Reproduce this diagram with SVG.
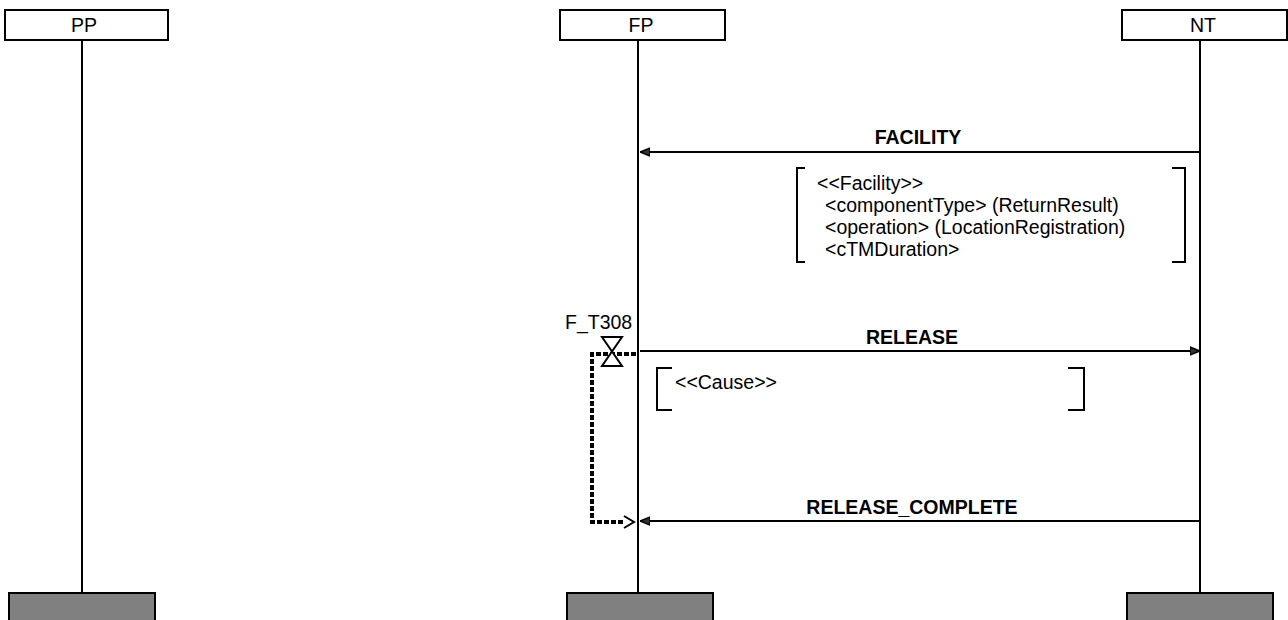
<svg xmlns="http://www.w3.org/2000/svg" width="1288" height="620" viewBox="0 0 1288 620">
<style>
.hdr{fill:#fff;stroke:#000;stroke-width:2}
.foot{fill:#808080;stroke:#000;stroke-width:2}
.life{stroke:#000;stroke-width:2;fill:none}
.msg{stroke:#000;stroke-width:2;fill:none}
.br{stroke:#000;stroke-width:2;fill:none}
.t{font-family:"Liberation Sans",Arial,sans-serif;font-size:19.5px;fill:#000}
.lb{font-family:"Liberation Sans",Arial,sans-serif;font-size:19.5px;font-weight:bold;fill:#000}
.tm{stroke:#000;stroke-width:4;stroke-dasharray:5 2;fill:none}
</style>
<defs>
<marker id="ah" viewBox="0 0 10 10" refX="10" refY="5" markerWidth="10" markerHeight="10" markerUnits="userSpaceOnUse" orient="auto">
<path d="M0,1 L10,5 L0,9 Z" fill="#333" stroke="#000" stroke-width="1.5"/>
</marker>
</defs>
<g id="PP">
<rect class="hdr" x="5" y="10" width="163" height="30"/>
<text class="t" x="84" y="32" text-anchor="middle">PP</text>
<line class="life" x1="82" y1="40" x2="82" y2="593"/>
<rect class="foot" x="9" y="593" width="146" height="32"/>
</g>
<g id="FP">
<rect class="hdr" x="560" y="10" width="165" height="30"/>
<text class="t" x="641" y="32" text-anchor="middle">FP</text>
<line class="life" x1="638" y1="40" x2="638" y2="593"/>
<rect class="foot" x="567" y="593" width="146" height="32"/>
</g>
<g id="NT">
<rect class="hdr" x="1122" y="10" width="165" height="30"/>
<text class="t" x="1203" y="32" text-anchor="middle">NT</text>
<line class="life" x1="1200" y1="40" x2="1200" y2="593"/>
<rect class="foot" x="1127" y="593" width="146" height="32"/>
</g>
<g id="connectors">
<line class="msg" x1="1200" y1="152" x2="640" y2="152" marker-end="url(#ah)"/>
<text class="lb" x="918" y="144" text-anchor="middle">FACILITY</text>
<line class="msg" x1="640" y1="351" x2="1200" y2="351" marker-end="url(#ah)"/>
<text class="lb" x="912" y="344" text-anchor="middle">RELEASE</text>
<line class="msg" x1="1200" y1="521" x2="640" y2="521" marker-end="url(#ah)"/>
<text class="lb" x="912" y="514" text-anchor="middle">RELEASE_COMPLETE</text>
<path class="tm" d="M636,354 L592,354 L592,522 L625,522"/>
<path d="M624,516 L634,522 L624,528" fill="none" stroke="#000" stroke-width="2"/>
</g>
<g id="facility-params">
<path class="br" d="M805,168 L797,168 L797,262 L805,262"/>
<path class="br" d="M1172,168 L1185,168 L1185,262 L1172,262"/>
<text class="t" x="817" y="190">&lt;&lt;Facility&gt;&gt;</text>
<text class="t" x="825" y="212">&lt;componentType&gt; (ReturnResult)</text>
<text class="t" x="825" y="234">&lt;operation&gt; (LocationRegistration)</text>
<text class="t" x="825" y="256">&lt;cTMDuration&gt;</text>
</g>
<g id="cause-params">
<path class="br" d="M672,368 L657,368 L657,410 L672,410"/>
<path class="br" d="M1068,368 L1084,368 L1084,410 L1068,410"/>
<text class="t" x="675" y="389">&lt;&lt;Cause&gt;&gt;</text>
</g>
<g id="timer">
<text class="t" x="565" y="329">F_T308</text>
<path d="M602,337 L622,337 L602,366 L622,366 Z" fill="#fff" stroke="#000" stroke-width="2"/>
</g>
</svg>
